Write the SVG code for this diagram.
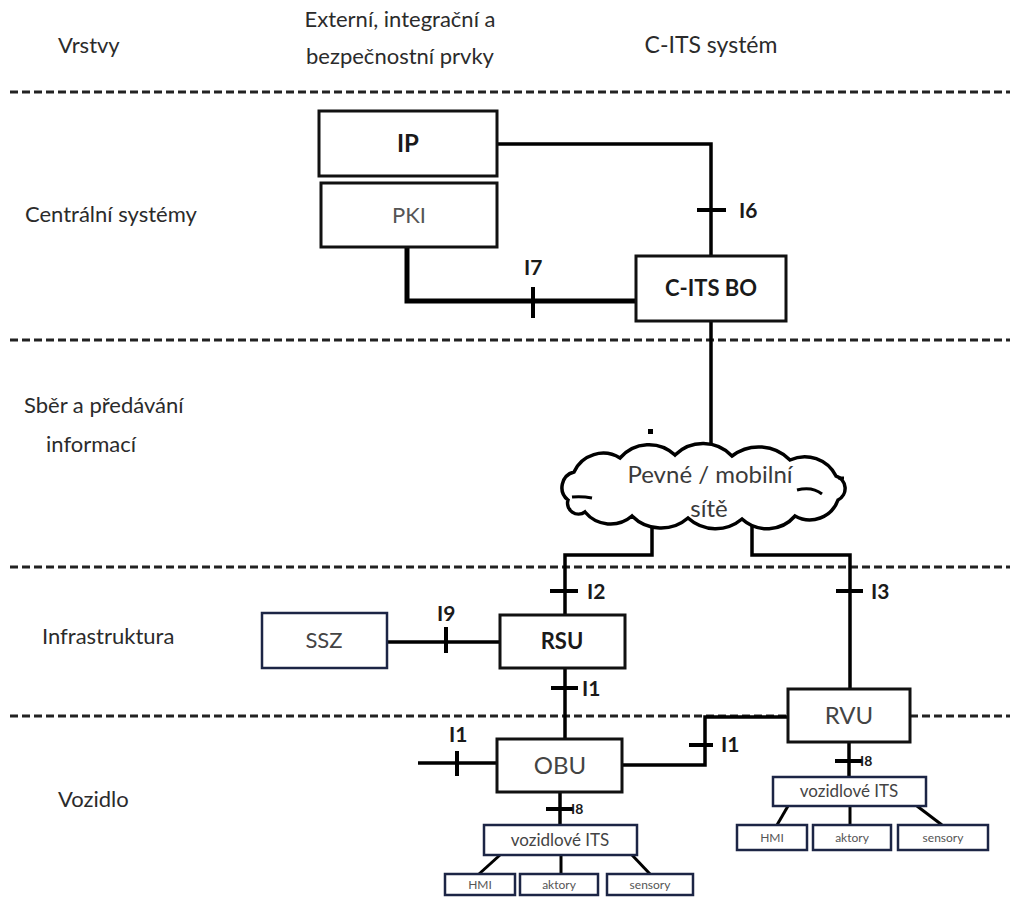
<svg xmlns="http://www.w3.org/2000/svg" width="1015" height="897" viewBox="0 0 1015 897">
<style>
text{font-family:Lato,"Liberation Sans",sans-serif;fill:#333;text-anchor:middle}
.lay{font-size:22px;fill:#2b2b2b}
.ls{text-anchor:start}
.bx{fill:#fff;stroke:#111;stroke-width:3}
.nv{fill:#fff;stroke:#1c2545;stroke-width:2.5}
.t{font-size:22px;fill:#3a3a3a}
.b{font-weight:bold;fill:#1a1a1a}
.lbl{font-size:21px;font-weight:bold;fill:#1a1a1a;text-anchor:start}
.sm{font-size:14px;font-weight:bold;fill:#1a1a1a;text-anchor:start}
.dash{stroke:#222;stroke-width:3;stroke-dasharray:8 4;fill:none}
.ln{stroke:#000;stroke-width:3.5;fill:none}
.tk{stroke:#000;stroke-width:4}
.sub{font-size:12px;fill:#555}
</style>
<g id="layers">
<line class="dash" x1="10" y1="92" x2="1010" y2="92"/>
<line class="dash" x1="10" y1="340" x2="1010" y2="340"/>
<line class="dash" x1="10" y1="567" x2="1010" y2="567"/>
<line class="dash" x1="10" y1="716" x2="1010" y2="716"/>
<text class="lay ls" x="58" y="53">Vrstvy</text>
<text class="lay" x="400" y="27">Externí, integrační a</text>
<text class="lay" x="400" y="64">bezpečnostní prvky</text>
<text class="lay" x="711" y="53" style="font-size:23px">C-ITS systém</text>
<text class="lay ls" x="25" y="222">Centrální systémy</text>
<text class="lay ls" x="24" y="413">Sběr a předávání</text>
<text class="lay ls" x="46" y="452">informací</text>
<text class="lay ls" x="42" y="644">Infrastruktura</text>
<text class="lay ls" x="58" y="807">Vozidlo</text>
</g>
<g id="connectors">
<polyline class="ln" points="497,144 711,144 711,256"/>
<line class="tk" x1="697" y1="210" x2="726" y2="210"/>
<text class="lbl" x="739" y="218">I6</text>
<polyline class="ln" style="stroke-width:5" points="407,247 407,301 636,301"/>
<line class="tk" x1="533" y1="287" x2="533" y2="318"/>
<text class="lbl" x="524" y="275">I7</text>
<line class="ln" x1="711" y1="321" x2="711" y2="452"/>
<polyline class="ln" points="652,522 652,555 565,555 565,615"/>
<line class="tk" x1="550" y1="591" x2="578" y2="591"/>
<text class="lbl" x="587" y="599">I2</text>
<polyline class="ln" points="752,520 752,555 850,555 850,689"/>
<line class="tk" x1="836" y1="591" x2="863" y2="591"/>
<text class="lbl" x="871" y="599">I3</text>
<line class="ln" x1="387" y1="642" x2="500" y2="642"/>
<line class="tk" x1="446" y1="627" x2="446" y2="653"/>
<text class="lbl" x="437" y="621">I9</text>
<line class="ln" x1="565" y1="668" x2="565" y2="739"/>
<line class="tk" x1="551" y1="688" x2="578" y2="688"/>
<text class="lbl" x="582" y="696">I1</text>
<line class="ln" x1="418" y1="763" x2="497" y2="763"/>
<line class="tk" x1="457" y1="751" x2="457" y2="776"/>
<text class="lbl" x="449" y="742">I1</text>
<polyline class="ln" points="622,765 705,765 705,717 788,717"/>
<line class="tk" x1="689" y1="745" x2="713" y2="745"/>
<text class="lbl" x="721" y="752">I1</text>
<line class="ln" x1="849" y1="742" x2="849" y2="777"/>
<line class="tk" x1="835" y1="761" x2="862" y2="761"/>
<text class="sm" x="860" y="766">I8</text>
<line class="ln" x1="560" y1="792" x2="560" y2="825"/>
<line class="tk" x1="546" y1="809" x2="573" y2="809"/>
<text class="sm" x="571" y="814">I8</text>
<g class="ln" style="stroke-width:3">
<line x1="788" y1="806" x2="777" y2="825"/>
<line x1="850" y1="806" x2="850" y2="825"/>
<line x1="917" y1="806" x2="942" y2="825"/>
<line x1="500" y1="855" x2="479" y2="874"/>
<line x1="561" y1="855" x2="561" y2="874"/>
<line x1="632" y1="855" x2="650" y2="874"/>
</g>
</g>
<rect x="648" y="429" width="5" height="5" fill="#000"/>
<g id="IP"><rect class="bx" x="319" y="111" width="178" height="65"/><text class="t b" x="408" y="152" style="font-size:24px">IP</text></g>
<g id="PKI"><rect class="bx" x="321" y="183" width="176" height="64"/><text class="t" x="409" y="223" style="fill:#555">PKI</text></g>
<g id="CITSBO"><rect class="bx" x="636" y="256" width="150" height="65"/><text class="t b" x="711" y="296">C-ITS BO</text></g>
<g id="cloud">
<path d="M568,500 A16,16 0 0 1 574,472 A32,32 0 0 1 620,458 A38,38 0 0 1 675,455 A40,40 0 0 1 732,456 A44,44 0 0 1 790,460 A35,35 0 0 1 836,476 A13,13 0 0 1 838,500 A30,30 0 0 1 795,516 A37,37 0 0 1 742,519 A41,41 0 0 1 688,518 A41,41 0 0 1 632,516 A33,33 0 0 1 585,512 A11,11 0 0 1 568,500 Z" fill="#fff" stroke="#000" stroke-width="3.5"/>
<path d="M572,497 Q582,496 592,498 M797,490 Q812,486 822,494 M838,478 L844,478" fill="none" stroke="#000" stroke-width="3"/>
<text class="t" x="710" y="483" style="font-size:24px">Pevné / mobilní</text>
<text class="t" x="709" y="517" style="font-size:24px">sítě</text>
</g>
<g id="SSZ"><rect class="nv" x="262" y="613" width="125" height="55"/><text class="t" x="324" y="648" style="fill:#444">SSZ</text></g>
<g id="RSU"><rect class="bx" x="500" y="615" width="125" height="53"/><text class="t b" x="562" y="649">RSU</text></g>
<g id="OBU"><rect class="bx" x="497" y="739" width="125" height="53"/><text class="t" x="560" y="774" style="font-size:24px;fill:#444">OBU</text></g>
<g id="RVU"><rect class="bx" x="788" y="689" width="122" height="53"/><text class="t" x="849" y="724" style="font-size:24px;fill:#444">RVU</text></g>
<g id="vits-r"><rect class="nv" x="773" y="777" width="153" height="29"/><text x="849" y="797" style="font-size:17px;fill:#444">vozidlové ITS</text></g>
<g id="hmi-r"><rect class="nv" x="737" y="825" width="70" height="25"/><text class="sub" x="772" y="842">HMI</text></g>
<g id="akt-r"><rect class="nv" x="813" y="825" width="78" height="25"/><text class="sub" x="852" y="842">aktory</text></g>
<g id="sen-r"><rect class="nv" x="898" y="825" width="90" height="25"/><text class="sub" x="943" y="842">sensory</text></g>
<g id="vits-l"><rect class="nv" x="484" y="825" width="153" height="30"/><text x="560" y="846" style="font-size:17px;fill:#444">vozidlové ITS</text></g>
<g id="hmi-l"><rect class="nv" x="445" y="874" width="70" height="21"/><text class="sub" x="480" y="889">HMI</text></g>
<g id="akt-l"><rect class="nv" x="520" y="874" width="78" height="21"/><text class="sub" x="559" y="889">aktory</text></g>
<g id="sen-l"><rect class="nv" x="607" y="874" width="86" height="21"/><text class="sub" x="650" y="889">sensory</text></g>
</svg>
